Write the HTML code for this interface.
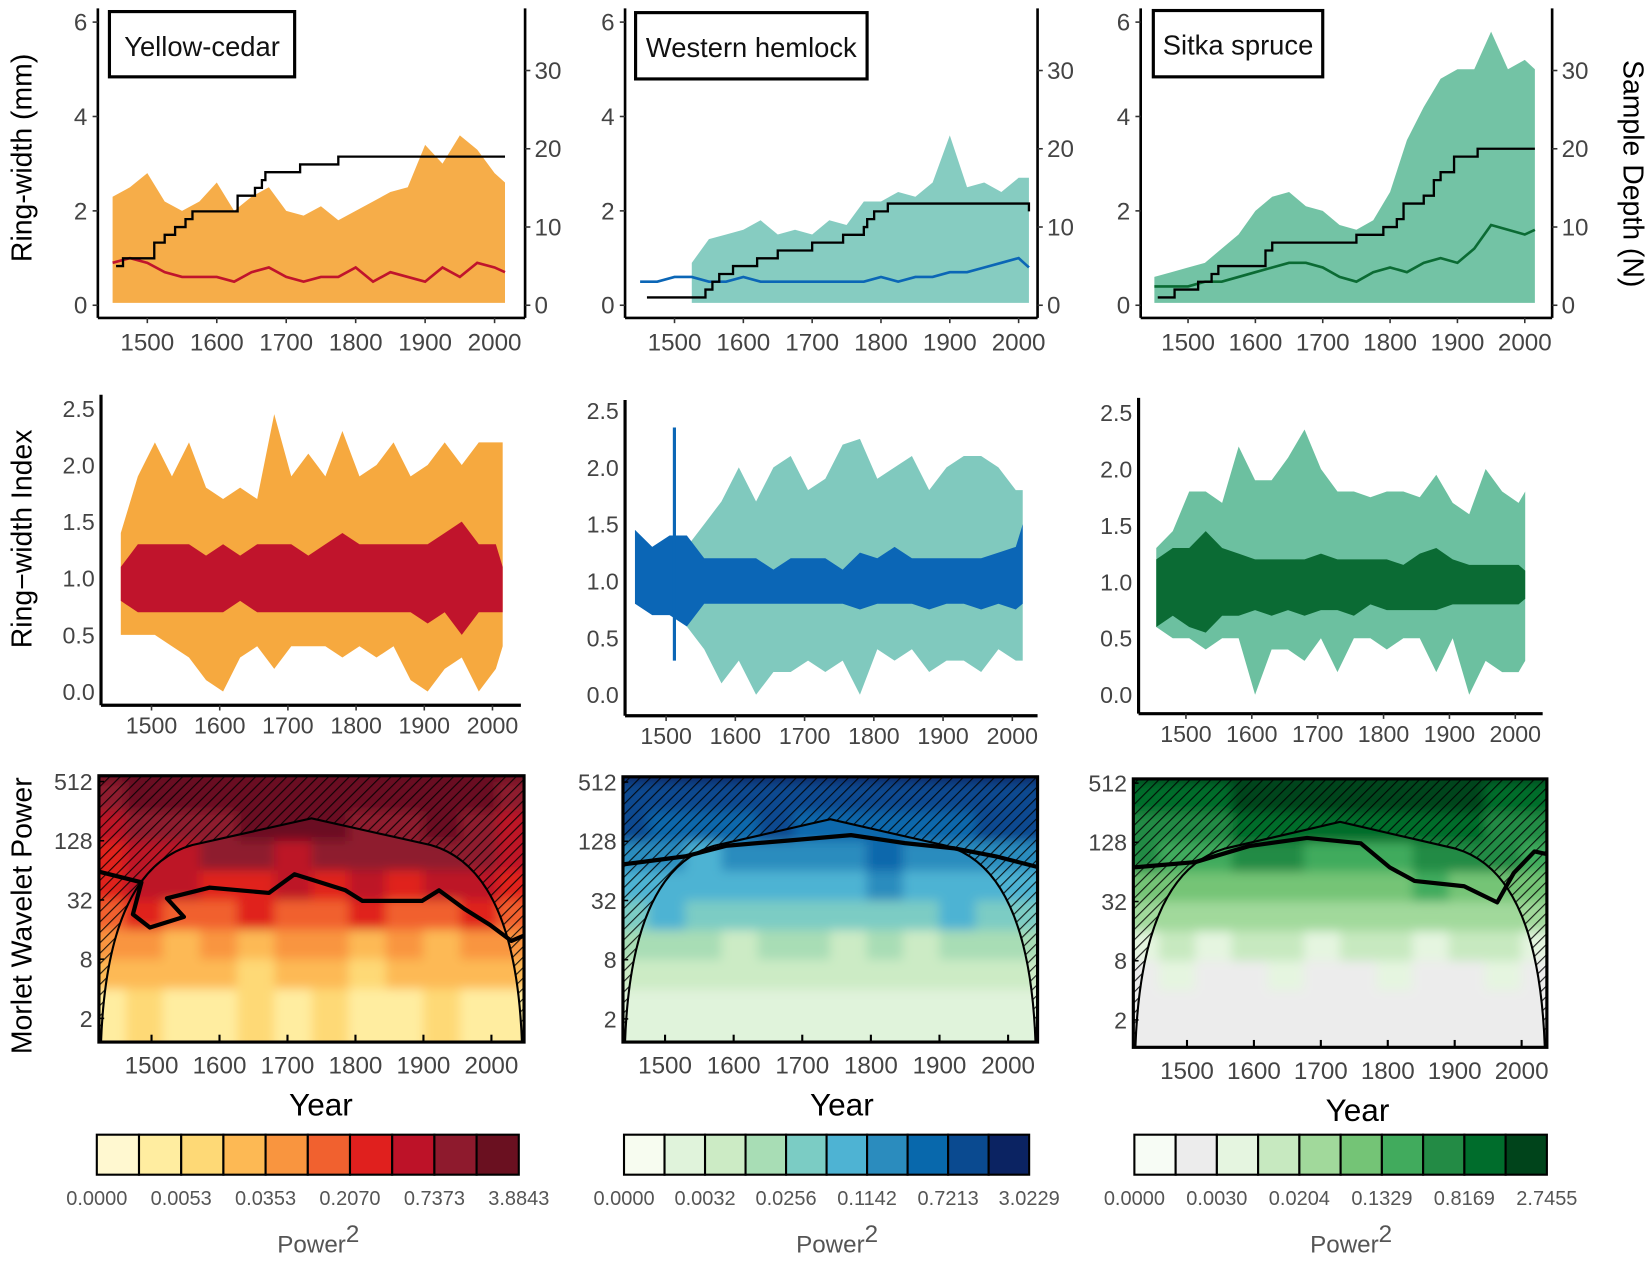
<!DOCTYPE html>
<html><head><meta charset="utf-8">
<style>
html,body{margin:0;padding:0;background:#fff;}
svg{display:block;}
text{font-family:"Liberation Sans",sans-serif;}
.n{font-family:"Liberation Sans Narrow","Liberation Sans",sans-serif;}
</style></head>
<body>
<svg id="fig" width="1650" height="1261" viewBox="0 0 1568 1198" preserveAspectRatio="none" xmlns="http://www.w3.org/2000/svg">
<defs>
<pattern id="hatch" patternUnits="userSpaceOnUse" width="7" height="7" patternTransform="rotate(45)">
<line x1="0" y1="0" x2="0" y2="7" stroke="#000" stroke-width="2.2"/>
</pattern>
<filter id="blur" x="0" y="0" width="1" height="1"><feGaussianBlur stdDeviation="5"/></filter>
</defs>
<text x="0" y="0" font-size="27" text-anchor="middle" transform="translate(30,150) rotate(-90)">Ring-width (mm)</text>
<text x="0" y="0" font-size="27" text-anchor="middle" transform="translate(1543,165) rotate(90)">Sample Depth (N)</text>
<text x="0" y="0" font-size="27" text-anchor="middle" transform="translate(30,512) rotate(-90)">Ring−width Index</text>
<text x="0" y="0" font-size="27" text-anchor="middle" transform="translate(30,870) rotate(-90)">Morlet Wavelet Power</text>
</svg>
<script>
// ---------- DATA ----------
const years1 = [1450,1475,1500,1525,1550,1575,1600,1625,1650,1675,1700,1725,1750,1775,1800,1825,1850,1875,1900,1925,1950,1975,2000,2015];
const rawUpperA = [2.3,2.5,2.8,2.2,2.0,2.2,2.6,2.0,2.3,2.5,2.0,1.9,2.1,1.8,2.0,2.2,2.4,2.5,3.4,3.0,3.6,3.3,2.8,2.6];
const rawMeanA  = [0.9,1.0,0.9,0.7,0.6,0.6,0.6,0.5,0.7,0.8,0.6,0.5,0.6,0.6,0.8,0.5,0.7,0.6,0.5,0.8,0.6,0.9,0.8,0.7];
const rawUpperB = [0,0,0,0.9,1.4,1.5,1.6,1.8,1.5,1.6,1.5,1.8,1.7,2.2,2.2,2.4,2.3,2.6,3.6,2.5,2.6,2.4,2.7,2.7];
const rawMeanB  = [0.5,0.5,0.6,0.6,0.5,0.5,0.6,0.5,0.5,0.5,0.5,0.5,0.5,0.5,0.6,0.5,0.6,0.6,0.7,0.7,0.8,0.9,1.0,0.8];
const rawUpperC = [0.6,0.7,0.8,0.9,1.2,1.5,2.0,2.3,2.4,2.1,2.0,1.7,1.6,1.8,2.4,3.5,4.2,4.8,5.0,5.0,5.8,5.0,5.2,5.0];
const rawMeanC  = [0.4,0.4,0.4,0.5,0.5,0.6,0.7,0.8,0.9,0.9,0.8,0.6,0.5,0.7,0.8,0.7,0.9,1.0,0.9,1.2,1.7,1.6,1.5,1.6];
const depthYearsA = [1455,1465,1500,1510,1525,1540,1555,1565,1625,1630,1655,1665,1670,1720,1775,2015];
const depthA      = [5,6,6,8,9,10,11,12,12,14,15,16,17,18,19,19];
const depthYearsB = [1460,1540,1545,1555,1565,1585,1620,1650,1700,1745,1775,1780,1790,1810,2010,2015];
const depthB      = [1,1,2,3,4,5,6,7,8,9,10,11,12,13,13,12];
const depthYearsC = [1455,1480,1515,1535,1545,1605,1615,1625,1750,1790,1810,1820,1850,1865,1875,1895,1930,2015];
const depthC      = [1,2,3,4,5,5,7,8,9,10,11,13,14,16,17,19,20,20];

const years2 = [1455,1480,1505,1530,1555,1580,1605,1630,1655,1680,1705,1730,1755,1780,1805,1830,1855,1880,1905,1930,1955,1980,2005,2015];
const idxUpperA = [1.4,1.9,2.2,1.9,2.2,1.8,1.7,1.8,1.7,2.45,1.9,2.1,1.9,2.3,1.9,2.0,2.2,1.9,2.0,2.2,2.0,2.2,2.2,2.2];
const idxLowerA = [0.5,0.5,0.5,0.4,0.3,0.1,0.0,0.3,0.4,0.2,0.4,0.4,0.4,0.3,0.4,0.3,0.4,0.1,0.0,0.2,0.3,0.0,0.2,0.4];
const idxMeanHiA = [1.1,1.3,1.3,1.3,1.3,1.2,1.3,1.2,1.3,1.3,1.3,1.2,1.3,1.4,1.3,1.3,1.3,1.3,1.3,1.4,1.5,1.3,1.3,1.1];
const idxMeanLoA = [0.8,0.7,0.7,0.7,0.7,0.7,0.7,0.8,0.7,0.7,0.7,0.7,0.7,0.7,0.7,0.7,0.7,0.7,0.6,0.7,0.5,0.7,0.7,0.7];
const idxUpperB = [0,0,0,1.3,1.5,1.7,2.0,1.7,2.0,2.1,1.8,1.9,2.2,2.25,1.9,2.0,2.1,1.8,2.0,2.1,2.1,2.0,1.8,1.8];
const idxLowerB = [0,0,0,0.6,0.4,0.1,0.3,0.0,0.2,0.2,0.3,0.2,0.3,0.0,0.4,0.3,0.4,0.2,0.3,0.3,0.2,0.4,0.3,0.3];
const idxMeanHiB = [1.45,1.3,1.4,1.4,1.2,1.2,1.2,1.2,1.1,1.2,1.2,1.2,1.1,1.25,1.2,1.3,1.2,1.2,1.2,1.2,1.2,1.25,1.3,1.5];
const idxMeanLoB = [0.8,0.7,0.7,0.6,0.8,0.8,0.8,0.8,0.8,0.8,0.8,0.8,0.8,0.75,0.8,0.8,0.8,0.75,0.8,0.8,0.75,0.8,0.75,0.8];
const spikeYearsB = [1512];
const spikeHiB = [2.35];
const spikeLoB = [0.3];
const idxUpperC = [1.3,1.45,1.8,1.8,1.7,2.2,1.9,1.9,2.1,2.35,2.0,1.8,1.8,1.75,1.8,1.8,1.75,1.95,1.7,1.6,2.0,1.8,1.7,1.8];
const idxLowerC = [0.6,0.5,0.5,0.4,0.5,0.5,0.0,0.4,0.4,0.3,0.5,0.2,0.5,0.5,0.4,0.5,0.5,0.2,0.5,0.0,0.3,0.2,0.2,0.3];
const idxMeanHiC = [1.2,1.3,1.3,1.45,1.3,1.25,1.2,1.2,1.2,1.2,1.25,1.2,1.2,1.2,1.2,1.15,1.25,1.3,1.2,1.15,1.15,1.15,1.15,1.1];
const idxMeanLoC = [0.6,0.7,0.6,0.55,0.7,0.7,0.75,0.7,0.75,0.7,0.75,0.75,0.7,0.8,0.75,0.75,0.75,0.75,0.8,0.8,0.8,0.8,0.8,0.85];

// wavelet power levels (0-9), rows = period octaves from top (512+) to bottom (2-), 12 time columns
const waveA = [
 [9,9,9,9,9,9,9,9,9,9,9,9],
 [8,9,9,9,9,9,9,9,9,9,9,8],
 [7,8,8,8,9,9,9,8,8,9,8,7],
 [6,7,7,8,8,7,8,8,8,8,8,7],
 [6,7,7,6,6,7,6,7,6,7,7,6],
 [5,6,5,5,6,5,5,6,5,5,6,5],
 [4,4,3,4,3,4,4,3,4,3,4,4],
 [3,3,3,3,2,3,3,2,3,3,3,3],
 [1,2,1,1,2,1,2,1,1,2,1,1]];
const waveB = [
 [9,9,9,9,9,9,9,9,9,9,9,9],
 [8,8,8,8,8,8,8,8,8,8,8,8],
 [8,7,7,7,8,7,7,7,7,7,8,8],
 [6,6,5,6,6,6,6,7,6,6,6,6],
 [5,5,5,5,5,5,5,6,5,5,5,5],
 [4,5,4,4,4,4,4,4,4,5,4,4],
 [3,3,3,2,3,3,2,3,2,3,3,3],
 [2,2,2,2,2,2,2,2,2,2,2,2],
 [1,1,1,1,1,1,1,1,1,1,1,1]];
const waveC = [
 [9,9,9,9,9,9,9,9,9,9,9,9],
 [8,8,8,9,9,9,9,9,9,9,8,8],
 [7,7,7,8,8,8,8,8,8,8,7,7],
 [7,6,6,7,7,6,6,6,7,7,7,6],
 [5,5,5,5,5,5,5,5,6,5,5,5],
 [4,4,4,4,4,4,4,4,4,4,4,4],
 [2,3,2,3,3,2,3,3,2,3,3,2],
 [1,2,1,1,2,1,1,2,1,1,2,1],
 [1,1,1,1,1,1,1,1,1,1,1,1]];

const palRed = ['#fff8d0','#ffeda0','#fed976','#fdb954','#f9953f','#f1612f','#e0201e','#bd1228','#8e1a2d','#6a1020'];
const palBlue = ['#f7fcf0','#e0f3db','#ccebc5','#a8ddb5','#7bccc4','#4eb3d3','#2b8cbe','#0868ac','#0a4a90','#0b2362'];
const palGreen = ['#f7fcf5','#ececec','#e5f5e0','#c7e9c0','#a1d99b','#74c476','#41ab5d','#238b45','#006d2c','#00441b'];
const labelsRed = ['0.0000','0.0053','0.0353','0.2070','0.7373','3.8843'];
const labelsBlue = ['0.0000','0.0032','0.0256','0.1142','0.7213','3.0229'];
const labelsGreen = ['0.0000','0.0030','0.0204','0.1329','0.8169','2.7455'];
const yearTicks = [1500,1600,1700,1800,1900,2000];
const rwTicks = [0,2,4,6];
const depthTicks = [0,10,20,30];
const idxTicks = [0,0.5,1.0,1.5,2.0,2.5];
const periodTicks = [2,8,32,128,512];

// ---------- HELPERS ----------
const svg = document.getElementById('fig');
const NS = 'http://www.w3.org/2000/svg';
function mk(tag, attrs, parent, name, inter){
  const el = document.createElementNS(NS, tag);
  for (const k in attrs) el.setAttribute(k, attrs[k]);
  
  
  (parent || svg).appendChild(el);
  return el;
}
function txt(x,y,s,size,anchor,parent,name,cls,fill){
  const t = mk('text',{x:x,y:y,'font-size':size,'text-anchor':anchor||'start',fill:fill||'#444'},parent,name);
  if(cls) t.setAttribute('class',cls);
  t.textContent = s;
  return t;
}
function xs(p,yr){ return p.x1500 + (yr-1500)*(p.x2000-p.x1500)/500; }
function bandPath(p, yrs, hi, lo, ysc){
  let d='';
  for(let i=0;i<yrs.length;i++){ d += (i?'L':'M')+xs(p,yrs[i]).toFixed(1)+' '+ysc(hi[i]).toFixed(1); }
  for(let i=yrs.length-1;i>=0;i--){ d += 'L'+xs(p,yrs[i]).toFixed(1)+' '+ysc(lo[i]).toFixed(1); }
  return d+'Z';
}
function linePath(p, yrs, v, ysc){
  let d='';
  for(let i=0;i<yrs.length;i++){ d += (i?'L':'M')+xs(p,yrs[i]).toFixed(1)+' '+ysc(v[i]).toFixed(1); }
  return d;
}
function stepPath(p, yrs, v, ysc){
  let d='M'+xs(p,yrs[0]).toFixed(1)+' '+ysc(v[0]).toFixed(1);
  for(let i=1;i<yrs.length;i++){
    d += 'L'+xs(p,yrs[i]).toFixed(1)+' '+ysc(v[i-1]).toFixed(1);
    d += 'L'+xs(p,yrs[i]).toFixed(1)+' '+ysc(v[i]).toFixed(1);
  }
  return d;
}

// ---------- ROW 1 ----------
const row1 = [
 {id:'yellow-cedar',title:'Yellow-cedar',xL:93,xR:499,x1500:140,x2000:470,box:[104,11,176,62],up:rawUpperA,mean:rawMeanA,dy:depthYearsA,dv:depthA,c1:'#f6a93f',c2:'#c0142c',start:1450},
 {id:'western-hemlock',title:'Western hemlock',xL:594,xR:986,x1500:641,x2000:968,box:[604,12,220,63],up:rawUpperB,mean:rawMeanB,dy:depthYearsB,dv:depthB,c1:'#80c9be',c2:'#0b66b6',start:1525},
 {id:'sitka-spruce',title:'Sitka spruce',xL:1084,xR:1475,x1500:1129,x2000:1449,box:[1096,10,161,63],up:rawUpperC,mean:rawMeanC,dy:depthYearsC,dv:depthC,c1:'#6cc0a0',c2:'#0b6b34',start:1450}
];
row1.forEach(p=>{
  const g = mk('g',{},svg,'ring-width-panel-'+p.id);
  const y0=290, y6=21, yb=302;
  const ysc = v => y0 - v*(y0-y6)/6;
  const dsc = v => y0 - v*(290-67)/30;
  const yrs=[], up=[], lo=[];
  for(let i=0;i<years1.length;i++){ if(years1[i]>=p.start){ yrs.push(years1[i]); up.push(p.up[i]); lo.push(0.05); } }
  mk('path',{d:bandPath(p,yrs,up,lo,ysc),fill:p.c1,opacity:0.95},g,'raw-series-envelope-'+p.id);
  mk('path',{d:linePath(p,years1,p.mean,ysc),fill:'none',stroke:p.c2,'stroke-width':2.5},g,'mean-ring-width-line-'+p.id);
  mk('path',{d:stepPath(p,p.dy,p.dv,dsc),fill:'none',stroke:'#000','stroke-width':2.2},g,'sample-depth-line-'+p.id);
  mk('line',{x1:p.xL,y1:8,x2:p.xL,y2:yb,stroke:'#000','stroke-width':2.5},g,'left-y-axis-'+p.id);
  mk('line',{x1:p.xR,y1:8,x2:p.xR,y2:yb,stroke:'#000','stroke-width':2.5},g,'right-y-axis-'+p.id);
  mk('line',{x1:p.xL,y1:yb,x2:p.xR,y2:yb,stroke:'#000','stroke-width':2.5},g,'x-axis-'+p.id);
  rwTicks.forEach(v=>{
    mk('line',{x1:p.xL-5,y1:ysc(v),x2:p.xL,y2:ysc(v),stroke:'#333','stroke-width':1.5},g,'y-tick');
    txt(p.xL-10,ysc(v)+8,String(v),23,'end',g,'y-tick-label');
  });
  depthTicks.forEach(v=>{
    mk('line',{x1:p.xR,y1:dsc(v),x2:p.xR+5,y2:dsc(v),stroke:'#333','stroke-width':1.5},g,'depth-tick');
    txt(p.xR+9,dsc(v)+8,String(v),23,'start',g,'depth-tick-label');
  });
  yearTicks.forEach(v=>{
    mk('line',{x1:xs(p,v),y1:yb,x2:xs(p,v),y2:yb+5,stroke:'#333','stroke-width':1.5},g,'x-tick');
    txt(xs(p,v),333,String(v),23,'middle',g,'x-tick-label');
  });
  mk('rect',{x:p.box[0],y:p.box[1],width:p.box[2],height:p.box[3],fill:'#fff',stroke:'#000','stroke-width':3},g,'species-label-box');
  txt(p.box[0]+p.box[2]/2,p.box[1]+42,p.title,26,'middle',g,'species-label',null,'#111');
});

// ---------- ROW 2 ----------
const row2 = [
 {id:'yellow-cedar',xL:96,xE:495,bot:670,y0:657,y25:388,x1500:144,x2000:468,top:375,up:idxUpperA,lo:idxLowerA,mh:idxMeanHiA,ml:idxMeanLoA,c1:'#f6a93f',c2:'#c0142c',start:1455},
 {id:'western-hemlock',xL:594,xE:986,bot:680,y0:660,y25:390,x1500:633,x2000:962,top:380,up:idxUpperB,lo:idxLowerB,mh:idxMeanHiB,ml:idxMeanLoB,c1:'#80c9be',c2:'#0b66b6',start:1530},
 {id:'sitka-spruce',xL:1082,xE:1466,bot:678,y0:660,y25:392,x1500:1127,x2000:1440,top:378,up:idxUpperC,lo:idxLowerC,mh:idxMeanHiC,ml:idxMeanLoC,c1:'#6cc0a0',c2:'#0b6b34',start:1455}
];
row2.forEach((p,k)=>{
  const g = mk('g',{},svg,'ring-width-index-panel-'+p.id);
  const ysc = v => p.y0 - v*(p.y0-p.y25)/2.5;
  const yrs=[], up=[], lo=[];
  for(let i=0;i<years2.length;i++){ if(years2[i]>=p.start){ yrs.push(years2[i]); up.push(p.up[i]); lo.push(p.lo[i]); } }
  mk('path',{d:bandPath(p,yrs,up,lo,ysc),fill:p.c1},g,'index-series-envelope-'+p.id);
  mk('path',{d:bandPath(p,years2,p.mh,p.ml,ysc),fill:p.c2},g,'index-chronology-band-'+p.id);
  if(k===1){
    spikeYearsB.forEach((yr,i)=>{
      mk('line',{x1:xs(p,yr),y1:ysc(spikeHiB[i]),x2:xs(p,yr),y2:ysc(spikeLoB[i]),stroke:p.c2,'stroke-width':3},g,'chronology-spike');
    });
  }
  mk('line',{x1:p.xL,y1:p.top,x2:p.xL,y2:p.bot,stroke:'#000','stroke-width':3},g,'y-axis-'+p.id);
  mk('line',{x1:p.xL,y1:p.bot,x2:p.xE,y2:p.bot,stroke:'#000','stroke-width':3},g,'x-axis-'+p.id);
  idxTicks.forEach(v=>{
    txt(p.xL-6,ysc(v)+8,v.toFixed(1),22,'end',g,'y-tick-label','n');
  });
  yearTicks.forEach(v=>{
    mk('line',{x1:xs(p,v),y1:p.bot,x2:xs(p,v),y2:p.bot+5,stroke:'#333','stroke-width':1.5},g,'x-tick');
    txt(xs(p,v),p.bot+27,String(v),22,'middle',g,'x-tick-label','n');
  });
});

// ---------- ROW 3 ----------
const row3 = [
 {id:'yellow-cedar',x0:94,y0:737,x1:498,y1:990,x1500:144,x2000:467,data:waveA,pal:palRed,labels:labelsRed,cb:[92,1078,401],yearX:305,
  sig:[[0.0,0.36],[0.1,0.4],[0.08,0.52],[0.12,0.57],[0.2,0.53],[0.16,0.46],[0.26,0.42],[0.4,0.44],[0.46,0.37],[0.52,0.4],[0.58,0.43],[0.62,0.47],[0.76,0.47],[0.8,0.43],[0.86,0.5],[0.92,0.56],[0.97,0.62],[1,0.6]]},
 {id:'western-hemlock',x0:592,y0:738,x1:986,y1:990,x1500:632,x2000:958,data:waveB,pal:palBlue,labels:labelsBlue,cb:[593,1078,385],yearX:800,
  sig:[[0.0,0.33],[0.15,0.3],[0.25,0.26],[0.4,0.24],[0.55,0.22],[0.68,0.25],[0.8,0.27],[0.9,0.3],[1,0.34]]},
 {id:'sitka-spruce',x0:1077,y0:740,x1:1470,y1:995,x1500:1128,x2000:1446,data:waveC,pal:palGreen,labels:labelsGreen,cb:[1078,1078,392],yearX:1290,
  sig:[[0.0,0.33],[0.15,0.31],[0.28,0.25],[0.42,0.22],[0.55,0.24],[0.62,0.33],[0.68,0.38],[0.8,0.4],[0.88,0.46],[0.92,0.35],[0.97,0.27],[1,0.28]]}
];
row3.forEach((p,k)=>{
  const g = mk('g',{},svg,'wavelet-panel-'+p.id);
  const w=p.x1-p.x0, h=p.y1-p.y0;
  const yOf = per => 968 - (Math.log2(per)-1)*(968-743)/8 + (p.y0-738)*0.5;
  const clip = mk('clipPath',{id:'clip'+k},svg,'wavelet-clip');
  mk('rect',{x:p.x0,y:p.y0,width:w,height:h},clip,'wavelet-clip-rect');
  const cells = mk('g',{'clip-path':'url(#clip'+k+')'},g,'wavelet-power-heatmap');
  const inner = mk('g',{filter:'url(#blur)'},cells,'wavelet-cells');
  const nr=p.data.length, nc=p.data[0].length;
  for(let r=0;r<nr;r++){
    const ptop = Math.pow(2,10-r), pbot = Math.pow(2,9-r);
    let yt = r===0 ? p.y0-10 : yOf(ptop);
    let yb = r===nr-1 ? p.y1+10 : yOf(pbot);
    for(let c=0;c<nc;c++){
      const cx0 = p.x0 - 10 + c*(w+20)/nc;
      const cell = mk('rect',{x:cx0,y:yt,width:(w+20)/nc+1,height:yb-yt+1,fill:p.pal[p.data[r][c]]},inner,'wavelet-cell');
    }
  }
  // cone of influence
  const X = f => p.x0 + f*w, Y = f => p.y0 + f*h;
  const cone = `M${p.x0} ${p.y0}L${p.x1} ${p.y0}L${p.x1} ${p.y1}L${X(0.995)} ${p.y1}Q${X(0.98)} ${Y(0.35)} ${X(0.78)} ${Y(0.26)}L${X(0.5)} ${Y(0.16)}L${X(0.22)} ${Y(0.26)}Q${X(0.02)} ${Y(0.35)} ${X(0.005)} ${p.y1}L${p.x0} ${p.y1}Z`;
  mk('path',{d:cone,fill:'url(#hatch)',opacity:0.85},cells,'cone-of-influence-hatch');
  const coneLine = `M${X(0.005)} ${p.y1}Q${X(0.02)} ${Y(0.35)} ${X(0.22)} ${Y(0.26)}L${X(0.5)} ${Y(0.16)}L${X(0.78)} ${Y(0.26)}Q${X(0.98)} ${Y(0.35)} ${X(0.995)} ${p.y1}`;
  mk('path',{d:coneLine,fill:'none',stroke:'#000','stroke-width':2},cells,'cone-of-influence-line');
  let sd='';
  p.sig.forEach((pt,i)=>{ sd += (i?'L':'M')+X(pt[0]).toFixed(1)+' '+Y(pt[1]).toFixed(1); });
  mk('path',{d:sd,fill:'none',stroke:'#000','stroke-width':4,'stroke-linejoin':'round'},cells,'significance-contour');
  mk('rect',{x:p.x0,y:p.y0,width:w,height:h,fill:'none',stroke:'#000','stroke-width':3},g,'wavelet-frame');
  periodTicks.forEach(v=>{
    mk('line',{x1:p.x0,y1:yOf(v),x2:p.x0+5,y2:yOf(v),stroke:'#000','stroke-width':1.5},g,'period-tick');
    txt(p.x0-6,yOf(v)+8,String(v),22,'end',g,'period-tick-label');
  });
  yearTicks.forEach(v=>{
    mk('line',{x1:xs(p,v),y1:p.y1,x2:xs(p,v),y2:p.y1-7,stroke:'#000','stroke-width':2},g,'x-tick');
    txt(xs(p,v),p.y1+30,String(v),23,'middle',g,'x-tick-label');
  });
  txt(p.yearX,p.y1+70,'Year',30,'middle',g,'x-axis-title',null,'#000');
  // colorbar
  const cb = mk('g',{},svg,'colorbar-'+p.id);
  const cw = p.cb[2]/10;
  p.pal.forEach((col,i)=>{
    mk('rect',{x:p.cb[0]+i*cw,y:p.cb[1],width:cw,height:38,fill:col,stroke:'#000','stroke-width':2},cb,'colorbar-swatch');
  });
  p.labels.forEach((lab,i)=>{
    txt(p.cb[0]+i*2*cw,p.cb[1]+67,lab,19,'middle',cb,'colorbar-label','n','#555');
  });
  const pt = txt(p.cb[0]+p.cb[2]/2+10,p.cb[1]+112,'Power',23,'middle',cb,'colorbar-title',null,'#555');
  const sup = document.createElementNS(NS,'tspan');
  
  
  sup.setAttribute('dy','-10');
  sup.textContent='2';
  pt.appendChild(sup);
});
</script>
</body></html>
